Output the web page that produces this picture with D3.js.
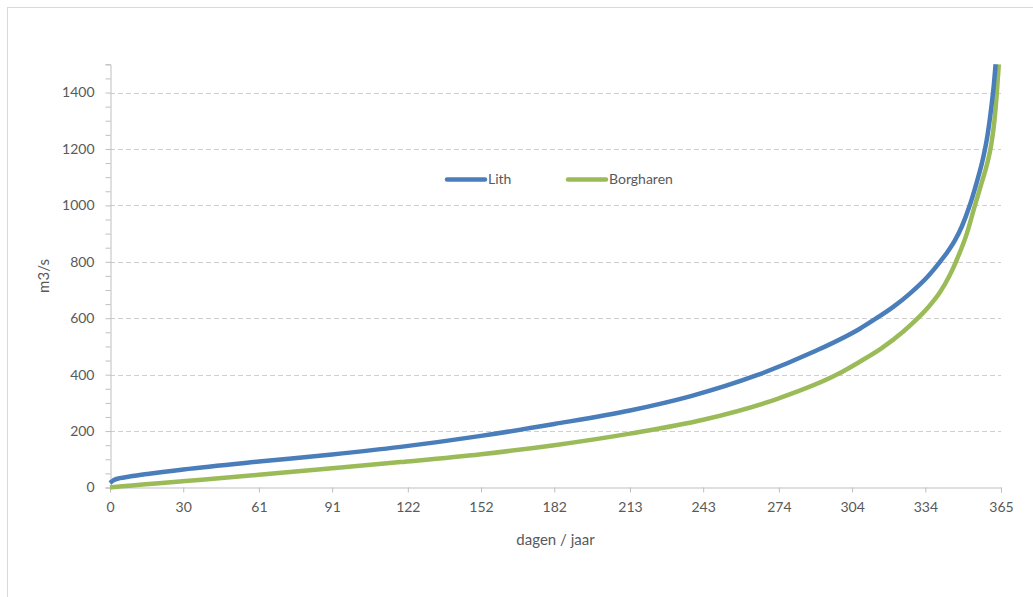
<!DOCTYPE html>
<html>
<head>
<meta charset="utf-8">
<script src="https://cdn.jsdelivr.net/npm/d3@7"></script>
<style>
  html, body { margin: 0; padding: 0; background: #fff; }
  svg { display: block; }
  text { font-family: Lato, "Open Sans", sans-serif; fill: #595959; }
</style>
</head>
<body>
<svg id="chart" width="1033" height="597"></svg>
<script>
// Duration curves: discharge (m3/s) sorted over the days of the year
const lithDays = [0, 1, 2, 4, 8, 16, 30, 61, 91, 119, 152, 182, 213, 238, 265, 288, 307, 314, 321, 328, 335, 340, 343, 346, 349, 352, 355, 357.6, 359.5, 361, 362.1, 362.8];
const lithFlow = [16, 23, 28, 33, 39, 49, 64, 92, 117, 144, 183, 225, 273, 324, 398, 480, 562, 600, 641, 690, 748, 800, 834, 874, 926, 995, 1080, 1165, 1250, 1345, 1430, 1500];

const borgDays = [0, 3, 10, 20, 31, 61, 91, 119, 152, 182, 213, 243, 274, 298, 307, 316, 325, 330, 335, 340, 344, 347.5, 351, 354, 357, 359.4, 361, 362.3, 363.3, 364.1];
const borgFlow = [0, 3, 8, 15, 23, 45, 68, 90, 118, 150, 191, 240, 316, 401, 445, 493, 553, 592, 637, 692, 752, 820, 900, 990, 1078, 1150, 1215, 1300, 1400, 1500];

const xTicks = [0, 30, 61, 91, 122, 152, 182, 213, 243, 274, 304, 334, 365];
const yTicks = [0, 200, 400, 600, 800, 1000, 1200, 1400];
const yMinorTicks = d3.range(0, 1501, 50);

const seriesNames = ["Lith", "Borgharen"];
const seriesColors = ["#4a7ebb", "#9bbb59"];

const series = [
  { name: seriesNames[0], color: seriesColors[0], pts: lithDays.map((d, i) => [d, lithFlow[i]]) },
  { name: seriesNames[1], color: seriesColors[1], pts: borgDays.map((d, i) => [d, borgFlow[i]]) }
];

const svg = d3.select("#chart");

// outer chart frame
svg.append("rect")
  .attr("x", 7.5).attr("y", 7.5)
  .attr("width", 1040).attr("height", 600)
  .attr("fill", "#fff").attr("stroke", "#d9d9d9").attr("stroke-width", 1);

const plot = { left: 110, right: 1001, top: 64.3, bottom: 487.5 };

const x = d3.scaleLinear().domain([0, 365]).range([plot.left, plot.right]);
const y = d3.scaleLinear().domain([0, 1500]).range([plot.bottom, plot.top]);

// dashed horizontal gridlines
svg.append("g")
  .selectAll("line")
  .data(yTicks.filter(v => v > 0))
  .join("line")
  .attr("x1", plot.left).attr("x2", plot.right)
  .attr("y1", d => Math.round(y(d)) + 0.5).attr("y2", d => Math.round(y(d)) + 0.5)
  .attr("stroke", "#d0d0d0").attr("stroke-width", 1)
  .attr("stroke-dasharray", "5,3");

// y axis: minor ticks every 50, labels every 200
const yAxisMinor = d3.axisLeft(y).tickValues(yMinorTicks).tickSize(5).tickFormat("");
const gyMinor = svg.append("g").attr("transform", `translate(${plot.left + 0.5},0)`).call(yAxisMinor);
gyMinor.select(".domain").attr("stroke", "#bfbfbf");
gyMinor.selectAll(".tick line").attr("stroke", "#bfbfbf");

const yAxis = d3.axisLeft(y).tickValues(yTicks).tickSize(0).tickPadding(16).tickFormat(d3.format("d"));
const gy = svg.append("g").attr("transform", `translate(${plot.left + 0.5},0)`).call(yAxis);
gy.select(".domain").remove();
gy.selectAll("text").attr("font-size", 14).attr("font-family", "Lato, sans-serif").attr("fill", "#595959");

// x axis
const xAxis = d3.axisBottom(x).tickValues(xTicks).tickSize(5).tickPadding(10).tickFormat(d3.format("d"));
const gx = svg.append("g").attr("transform", `translate(0,${plot.bottom})`).call(xAxis);
gx.select(".domain").attr("stroke", "#bfbfbf");
gx.selectAll(".tick line").attr("stroke", "#bfbfbf");
gx.selectAll("text").attr("font-size", 14).attr("font-family", "Lato, sans-serif").attr("fill", "#595959");

// axis titles
svg.append("text")
  .attr("x", (plot.left + plot.right) / 2).attr("y", 545)
  .attr("text-anchor", "middle").attr("font-size", 15)
  .text("dagen / jaar");

svg.append("text")
  .attr("transform", "translate(49,276) rotate(-90)")
  .attr("text-anchor", "middle").attr("font-size", 15)
  .text("m3/s");

// series lines
const line = d3.line()
  .x(d => x(d[0]))
  .y(d => y(d[1]))
  .curve(d3.curveMonotoneX);

svg.append("g")
  .selectAll("path")
  .data(series.slice().reverse())
  .join("path")
  .attr("d", d => line(d.pts))
  .attr("fill", "none")
  .attr("stroke", d => d.color)
  .attr("stroke-width", 4.5)
  .attr("stroke-linejoin", "round");

// legend
const legendItems = [
  { name: seriesNames[0], color: seriesColors[0], x: 447 },
  { name: seriesNames[1], color: seriesColors[1], x: 568 }
];
const lg = svg.append("g").selectAll("g").data(legendItems).join("g")
  .attr("transform", d => `translate(${d.x},179.5)`);
lg.append("line")
  .attr("x1", 0).attr("x2", 38).attr("y1", 0).attr("y2", 0)
  .attr("stroke", d => d.color).attr("stroke-width", 4.5).attr("stroke-linecap", "round");
lg.append("text")
  .attr("x", 41).attr("y", 0).attr("dy", "0.35em")
  .attr("font-size", 14)
  .text(d => d.name);
</script>
</body>
</html>
